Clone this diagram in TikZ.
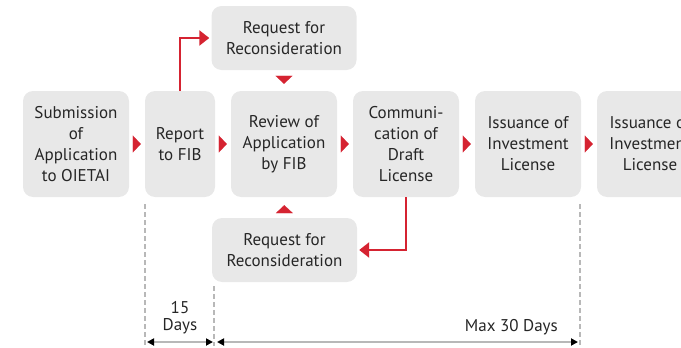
\documentclass[tikz,border=0pt]{standalone}
\usepackage{fontspec}
\setmainfont{PT Sans}
\usetikzlibrary{arrows.meta}
\definecolor{boxgray}{HTML}{E8E8E8}
\definecolor{flowred}{HTML}{D52331}
\definecolor{dashgray}{HTML}{B8B8B8}
\definecolor{textgray}{HTML}{262626}
\begin{document}
\begin{tikzpicture}[x=1pt,y=-1pt,
  box/.style={fill=boxgray,rounded corners=10pt,inner sep=0pt,align=center,
    minimum width=106pt,minimum height=106pt,text=textgray,
    font=\fontsize{17}{21}\selectfont},
  smallbox/.style={box,minimum width=145pt,minimum height=64pt},
  steparrow/.style={line width=0.1pt,flowred,-{Triangle[length=8pt,width=17pt]},
    shorten <=4pt,shorten >=4pt},
  elbow/.style={line width=2.3pt,flowred,-{Triangle[length=10pt,width=15pt]},
    shorten >=2pt},
  guide/.style={dashgray,line width=2.2pt,dash pattern=on 5pt off 3pt},
  span/.style={dashgray,line width=2.2pt,
    {Triangle[length=7pt,width=7pt,black]}-{Triangle[length=7pt,width=7pt,black]}},
  spanlabel/.style={text=textgray,font=\fontsize{17}{17}\selectfont,align=center,inner sep=0pt}]

\useasboundingbox (0,0) rectangle (681,348);

\node[box] (sub) at (76,144) {Submission\\of\\Application\\to OIETAI};
\node[box,minimum width=70pt] (rep) at (180,144) {Report\\to FIB};
\node[box] (rev) at (284,144) {Review of\\Application\\by FIB};
\node[box] (comm) at (406,144) {Communi-\\cation of\\Draft\\License};
\node[box] (iss) at (528,144) {Issuance of\\Investment\\License};
\node[box] (iss2) at (650,144) {Issuance of\\Investment\\License};

\node[smallbox] (reqtop) at (284,38) {Request for\\Reconsideration};
\node[smallbox] (reqbot) at (284.5,250) {Request for\\Reconsideration};

\draw[steparrow] (sub) -- (rep);
\draw[steparrow] (rep) -- (rev);
\draw[steparrow] (rev) -- (comm);
\draw[steparrow] (comm) -- (iss);
\draw[steparrow] (iss) -- (iss2);
\draw[steparrow,shorten <=6pt,shorten >=7pt] (reqtop) -- (rev);
\draw[steparrow,shorten <=5pt,shorten >=8pt] (reqbot) -- (rev);

\draw[elbow] (rep.north) |- (reqtop.west);
\draw[elbow] (comm.south) |- (reqbot.east);

\coordinate (g1a) at (145,204);
\coordinate (g1b) at (145,346);
\coordinate (g2a) at (214,286);
\coordinate (g2b) at (214,346);
\coordinate (g3a) at (580,204);
\coordinate (g3b) at (580,346);
\draw[guide] (g1a) -- (g1b);
\draw[guide] (g2a) -- (g2b);
\draw[guide] (g3a) -- (g3b);

\coordinate (s1a) at (147,342);
\coordinate (s1b) at (213,342);
\coordinate (s2a) at (217,342);
\coordinate (s2b) at (578,342);
\draw[span] (s1a) -- (s1b);
\draw[span] (s2a) -- (s2b);

\node[spanlabel] (fifteen) at (180,318) {15\\Days};
\node[spanlabel,anchor=east] (thirty) at (558,327) {Max 30 Days};

\end{tikzpicture}
\end{document}
